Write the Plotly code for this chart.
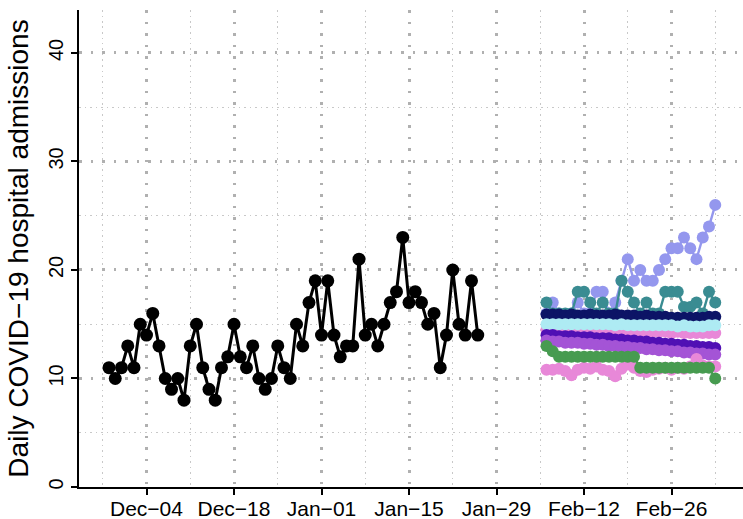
import pandas as pd
import plotly.graph_objects as go

# ---------------- data ----------------
obs_start = "2022-11-28"
observed = [11, 10, 11, 13, 11, 15, 14, 16, 13, 10, 9, 10, 8, 13, 15, 11, 9, 8, 11, 12,
            15, 12, 11, 13, 10, 9, 10, 13, 11, 10, 15, 13, 17, 19, 14, 19, 14, 12, 13, 13,
            21, 14, 15, 13, 15, 17, 18, 23, 17, 18, 17, 15, 16, 11, 14, 20, 15, 14, 19, 14]

fc_start = "2023-02-06"
periwinkle = [16, 17, 16, 15.5, 16, 17, 16, 16, 18, 18, 16, 17, 19, 21, 19, 20, 19, 19, 20, 21,
              22, 22, 23, 22, 21, 23, 24, 26]
teal = [17, 16, 16, 16, 16, 18, 18, 17, 16, 17, 16, 16, 19, 18, 17, 16, 17, 16, 16, 18,
        18, 18, 16.6, 16.6, 17, 16, 18, 17]
navy = [15.9, 15.9, 15.9, 15.8, 15.9, 15.8, 15.8, 15.9, 15.8, 15.8, 15.8, 15.9, 15.8, 15.8,
        15.8, 15.7, 15.8, 15.7, 15.7, 15.7, 15.6, 15.6, 15.6, 15.6, 15.6, 15.6, 15.7, 15.7]
cyan = [15.0, 15.0, 15.0, 15.0, 15.0, 15.0, 15.0, 15.0, 15.0, 15.0, 15.0, 14.9, 15.0, 14.9,
        14.9, 14.9, 14.9, 14.9, 14.9, 14.9, 14.9, 14.8, 14.9, 14.8, 14.8, 14.8, 14.9, 14.9]
pink_high = [14.5, 14.5, 14.5, 14.5, 14.5, 14.5, 14.5, 14.5, 14.5, 14.5, 14.5, 14.5, 14.4, 14.4,
             14.4, 14.3, 14.3, 14.3, 14.3, 14.3, 14.2, 14.3, 14.2, 14.2, 14.2, 14.2, 14.2, 14.2]
indigo = [14.0, 14.0, 13.9, 13.9, 13.9, 13.8, 13.8, 13.8, 13.7, 13.7, 13.7, 13.6, 13.6, 13.5,
          13.5, 13.4, 13.4, 13.3, 13.3, 13.2, 13.2, 13.1, 13.1, 13.0, 13.0, 12.9, 12.9, 12.8]
orchid = [13.5, 13.4, 13.4, 13.3, 13.3, 13.3, 13.2, 13.2, 13.1, 13.1, 13.0, 13.0, 12.9, 12.9,
          12.8, 12.8, 12.7, 12.7, 12.6, 12.6, 12.5, 12.5, 12.4, 12.4, 12.3, 12.3, 12.2, 12.2]
pink_low = [10.8, 10.8, 10.9, 10.7, 10.3, 10.8, 11.0, 10.9, 11.1, 10.8, 10.7, 10.2, 10.9, 11.3,
            11.0, 10.7, 10.6, 10.8, 10.9, 11.0, 10.8, 11.0, 10.9, 11.1, 11.8, 11.2, 11.1, 11.1]
green = [13, 12.5, 12, 12, 12, 12, 12, 12, 12, 12, 12, 12, 12, 12,
         12, 11, 11, 11, 11, 11, 11, 11, 11, 11, 11, 11, 11, 10]

forecast_series = [
    ("periwinkle", periwinkle, "#9497EE"),
    ("teal", teal, "#3A8C92"),
    ("navy", navy, "#0C1466"),
    ("pink_high", pink_high, "#E888D8"),
    ("cyan", cyan, "#AEEBF3"),
    ("indigo", indigo, "#5010B4"),
    ("orchid", orchid, "#A454D6"),
    ("pink_low", pink_low, "#E888D8"),
    ("green", green, "#479B50"),
]

tick_dates = ["2022-12-04", "2022-12-18", "2023-01-01", "2023-01-15",
              "2023-01-29", "2023-02-12", "2023-02-26"]
tick_labels = ["Dec\u221204", "Dec\u221218", "Jan\u221201", "Jan\u221215",
               "Jan\u221229", "Feb\u221212", "Feb\u221226"]
minor_dates = ["2022-11-27", "2022-12-11", "2022-12-25", "2023-01-08",
               "2023-01-22", "2023-02-05", "2023-02-19", "2023-03-05"]
y_ticks = [0, 10, 20, 30, 40]
y_minor = [5, 15, 25, 35]
x_range = ["2022-11-23 04:48", "2023-03-09 10:34"]
y_range = [0, 43.96]

# ---------------- figure ----------------
obs_dates = pd.date_range(obs_start, periods=len(observed), freq="D")
fc_dates = pd.date_range(fc_start, periods=len(periwinkle), freq="D")

fig = go.Figure()
for name, vals, col in forecast_series:
    fig.add_trace(go.Scatter(
        x=fc_dates, y=vals, mode="lines+markers", name=name,
        line=dict(color=col, width=2.4),
        marker=dict(color=col, size=12, line=dict(width=0)),
        cliponaxis=False,
    ))

fig.add_trace(go.Scatter(
    x=obs_dates, y=observed, mode="lines+markers", name="observed",
    line=dict(color="black", width=3),
    marker=dict(color="black", size=13, line=dict(width=0)),
    cliponaxis=False,
))

major_grid = dict(showgrid=True, gridcolor="#B0B0B0", gridwidth=2.5, griddash="2.5px,9px")

fig.update_layout(
    width=743, height=519,
    margin=dict(l=79, r=0, t=10, b=32),
    paper_bgcolor="white", plot_bgcolor="white",
    showlegend=False,
    font=dict(family="Liberation Sans, Arial, sans-serif", color="black"),
    xaxis=dict(
        type="date", range=x_range, automargin=False,
        tickmode="array", tickvals=tick_dates, ticktext=tick_labels,
        tickfont=dict(size=21, color="black"),
        ticks="outside", ticklen=6, tickwidth=2, tickcolor="black",
        ticklabelstandoff=-4,
        showline=True, linecolor="black", linewidth=2,
        zeroline=False,
        **major_grid,
        minor=dict(tickmode="array", tickvals=minor_dates, showgrid=True,
                   gridcolor="#C8C8C8", gridwidth=1.2, griddash="1.5px,4px", ticks=""),
    ),
    yaxis=dict(
        range=y_range, automargin=False,
        tickmode="array", tickvals=y_ticks,
        tickangle=-90,
        tickfont=dict(size=20, color="black"),
        ticks="outside", ticklen=6, tickwidth=2, tickcolor="black",
        showline=True, linecolor="black", linewidth=2,
        zeroline=False,
        **major_grid,
        minor=dict(tickmode="array", tickvals=y_minor, showgrid=True,
                   gridcolor="#C8C8C8", gridwidth=1.2, griddash="1.5px,4px", ticks=""),
        title=dict(text="Daily COVID\u221219 hospital admissions",
                   font=dict(size=28, color="black"), standoff=8),
    ),
)

fig.write_html(
    "out.html",
    config={"displayModeBar": False},
    post_script="document.body.style.margin='0px';document.body.style.overflow='hidden';",
)
